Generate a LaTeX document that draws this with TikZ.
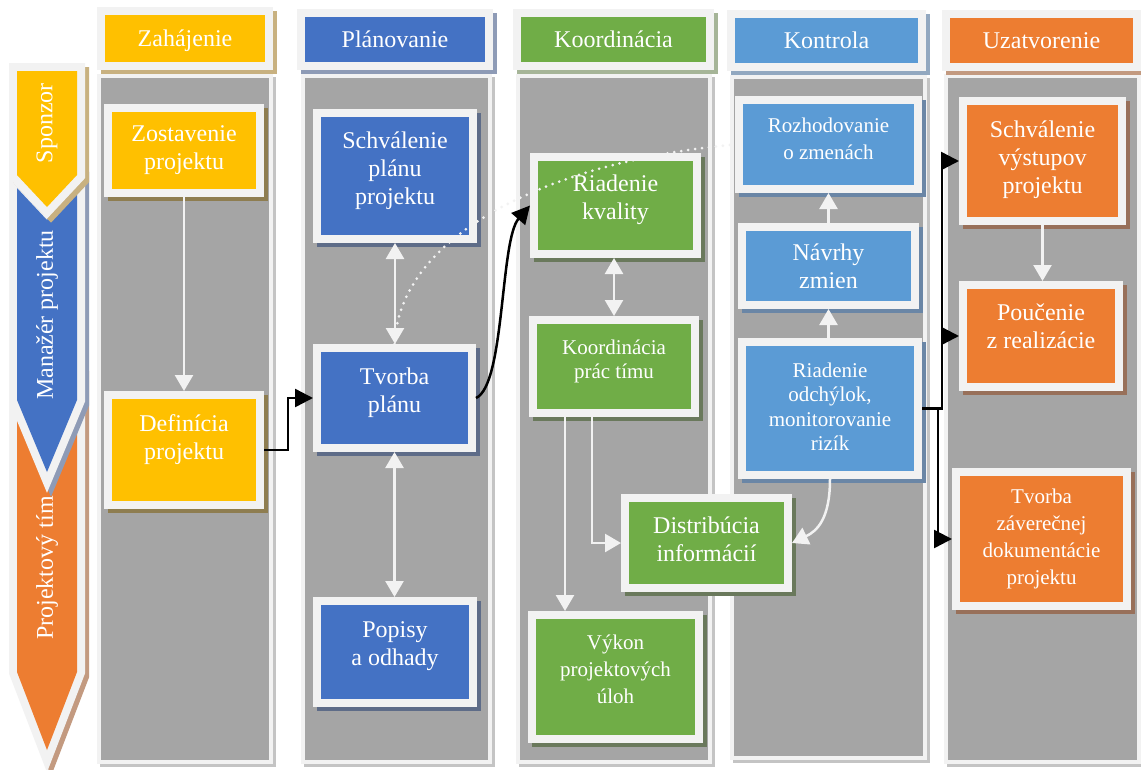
\documentclass[tikz,border=0pt]{standalone}
\usepackage{fontspec}
\setmainfont{Liberation Serif}
\usetikzlibrary{arrows.meta,calc}
\definecolor{frm}{HTML}{F2F2F2}
\definecolor{lanec}{HTML}{A5A5A5}
\definecolor{lanes}{HTML}{C4C4C4}
\definecolor{cyel}{HTML}{FFC000}
\definecolor{cblu}{HTML}{4472C4}
\definecolor{cgrn}{HTML}{70AD47}
\definecolor{clbl}{HTML}{5B9BD5}
\definecolor{cora}{HTML}{ED7D31}
\definecolor{hyel}{HTML}{C8B180}
\definecolor{hblu}{HTML}{8E9BB6}
\definecolor{hgrn}{HTML}{A6B598}
\definecolor{hlbl}{HTML}{92A8C0}
\definecolor{hora}{HTML}{C39A80}
\definecolor{dyel}{HTML}{8E7D50}
\definecolor{dblu}{HTML}{5E6C88}
\definecolor{dgrn}{HTML}{6A795C}
\definecolor{dlbl}{HTML}{6A86A6}
\definecolor{dora}{HTML}{98705A}
\newcommand\fsA{\fontsize{24pt}{28pt}\selectfont}
\newcommand\fsB{\fontsize{21pt}{27pt}\selectfont}
\newcommand\fsC{\fontsize{21pt}{24.5pt}\selectfont}
\newcommand\up[1]{\rule[-#1pt]{0pt}{#1pt}}
\begin{document}
\begin{tikzpicture}[x=1pt,y=-1pt,
  shd/.style 2 args={preaction={draw=#1,fill=#1,line width=#2,transform canvas={shift={(4pt,-4pt)}}}},
  box/.style 2 args={draw=frm,line width=8pt,fill=#1,shd={#2}{8pt},inner sep=0pt,outer sep=4pt,text=white,align=center,font=\fsA},
  hdr/.style={text height=19pt,text depth=4pt},
  lanebox/.style={draw=frm,line width=4pt,fill=lanec,inner sep=0pt,
    preaction={draw=lanes,fill=lanes,line width=4pt,transform canvas={shift={(3pt,-3pt)}}}},
  chev/.style 2 args={draw=frm,fill=frm,line width=16pt,line join=miter,shd={#2}{16pt}},
  wa/.style={draw=frm,line width=2.5pt,-{Triangle[width=18pt,length=16pt]}},
  wda/.style={draw=frm,line width=2.5pt,{Triangle[width=18pt,length=16pt]}-{Triangle[width=18pt,length=16pt]}},
  ba/.style={draw=black,line width=2.5pt,-{Triangle[width=18pt,length=18pt]}},
  dots/.style={draw=frm,line width=3pt,line cap=round,dash pattern=on 0pt off 7pt}]
\useasboundingbox[fill=white] (0,0) rectangle (1141,769);

% lanes
\node[lanebox,minimum width=172pt,minimum height=686pt] (l1) at (185,419) {};
\node[lanebox,minimum width=187pt,minimum height=686pt] (l2) at (396.5,419) {};
\node[lanebox,minimum width=192pt,minimum height=686pt] (l3) at (614,419) {};
\node[lanebox,minimum width=193pt,minimum height=681pt] (l4) at (828.5,417.5) {};
\node[lanebox,minimum width=193pt,minimum height=686pt] (l5) at (1042.5,419) {};

% headers
\node[box={cyel}{hyel},hdr,minimum width=168pt,minimum height=55pt] (h1) at (185,38.5) {Zahájenie};
\node[box={cblu}{hblu},hdr,minimum width=188pt,minimum height=53pt] (h2) at (395,39.5) {Plánovanie};
\node[box={cgrn}{hgrn},hdr,minimum width=193pt,minimum height=53pt] (h3) at (613.5,39.5) {Koordinácia};
\node[box={clbl}{hlbl},hdr,minimum width=191pt,minimum height=53pt] (h4) at (826.5,40.5) {Kontrola};
\node[box={cora}{hora},hdr,minimum width=191pt,minimum height=53pt] (h5) at (1041.5,40.5) {Uzatvorenie};

% role chevrons
\path[chev={cora}{hora}] (17,410) -- (47,488) -- (77,410) -- (77,672) -- (47,750) -- (17,672) -- cycle;
\fill[cora] (17,410) -- (47,488) -- (77,410) -- (77,672) -- (47,750) -- (17,672) -- cycle;
\path[chev={cblu}{hblu}] (17,188) -- (47,220) -- (77,188) -- (77,400) -- (47,472) -- (17,400) -- cycle;
\fill[cblu] (17,188) -- (47,220) -- (77,188) -- (77,400) -- (47,472) -- (17,400) -- cycle;
\path[chev={cyel}{hyel}] (17,71) -- (77,71) -- (77,175) -- (47,207) -- (17,175) -- cycle;
\fill[cyel] (17,71) -- (77,71) -- (77,175) -- (47,207) -- (17,175) -- cycle;
\node[rotate=90,text=white,font=\fsA] (r1) at (47,123) {Sponzor};
\node[rotate=90,text=white,font=\fsA] (r2) at (47,315) {Manažér projektu};
\node[rotate=90,text=white,font=\fsA] (r3) at (47,568) {Projektový tím};

% lane 1
\node[box={cyel}{dyel},minimum width=152pt,minimum height=85pt] (zost) at (184,150.5) {Zostavenie\\projektu};
\node[box={cyel}{dyel},minimum width=152pt,minimum height=110pt] (defi) at (184,450) {Definícia\\projektu\up{26}};
% lane 2
\node[box={cblu}{dblu},minimum width=156pt,minimum height=126pt] (schv) at (395,176) {Schválenie\\plánu\\projektu\up{16}};
\node[box={cblu}{dblu},minimum width=155pt,minimum height=100pt] (tvor) at (394.5,398) {Tvorba\\plánu\up{16}};
\node[box={cblu}{dblu},minimum width=156pt,minimum height=102pt] (popi) at (395,652) {Popisy\\a odhady\up{16}};
% lane 3
\node[box={cgrn}{dgrn},minimum width=163pt,minimum height=97pt] (kval) at (615.5,205.5) {Riadenie\\kvality\up{16}};
\node[box={cgrn}{dgrn},minimum width=162pt,minimum height=93pt,font=\fsC] (koor) at (614,366.5) {Koordinácia\\prác tímu\up{15}};
\node[box={cgrn}{dgrn},minimum width=163pt,minimum height=90pt] (dist) at (706.5,543) {Distribúcia\\informácií\up{8}};
\node[box={cgrn}{dgrn},minimum width=167pt,minimum height=124pt,font=\fsB] (vyko) at (615.5,677) {Výkon\\projektových\\úloh\up{16}};
% lane 4
\node[box={clbl}{dlbl},minimum width=179pt,minimum height=89pt,font=\fsB] (rozh) at (828.5,144.5) {Rozhodovanie\\o zmenách\up{12}};
\node[box={clbl}{dlbl},minimum width=173pt,minimum height=78pt] (navr) at (828.5,266) {Návrhy\\zmien};
\node[box={clbl}{dlbl},minimum width=176pt,minimum height=133pt,font=\fsC] (odch) at (830,408.5) {Riadenie\\odchýlok,\\monitorovanie\\rizík\up{4}};
% lane 5
\node[box={cora}{dora},minimum width=159pt,minimum height=120pt] (schvv) at (1042.5,161) {Schválenie\\výstupov\\projektu\up{8}};
\node[box={cora}{dora},minimum width=156pt,minimum height=102pt] (pouc) at (1041,336) {Poučenie\\z realizácie\up{19}};
\node[box={cora}{dora},minimum width=171pt,minimum height=134pt,font=\fsB] (zave) at (1041.5,539) {Tvorba\\záverečnej\\dokumentácie\\projektu};

% white connectors
\draw[wa] (zost.south) -- (zost.south |- defi.north);
\draw[wda] (schv.south) -- (schv.south |- tvor.north);
\draw[wda] (tvor.south) -- (tvor.south |- popi.north);
\draw[wda] ([xshift=-1.5pt]kval.south) -- ([xshift=-1.5pt]kval.south |- koor.north);
\draw[wa] ([xshift=-49pt]koor.south) -- ([xshift=-49pt]koor.south |- vyko.north);
\draw[wa] ([xshift=-22pt]koor.south) |- (dist.west);
\draw[wa] (odch.south) .. controls +(0,40) and +(25,-12) .. (dist.east);
\draw[wa] ([xshift=-1.5pt]odch.north) -- ([xshift=-1.5pt]odch.north |- navr.south);
\draw[wa] (navr.south |- navr.north) -- (navr.north |- rozh.south);
\draw[wa] (schvv.south) -- (schvv.south |- pouc.north);
\draw[dots] (tvor.north) .. controls (400,230) and (560,160) .. (rozh.west);

% black connectors
\draw[ba] (defi.east) -- ++(24,0) |- (tvor.west);
\draw[ba] (tvor.east) .. controls (505,385) and (500,240) .. (kval.west);
\draw[ba] (odch.east) -- ++(20,0) coordinate (j) |- (schvv.west);
\draw[ba] (j) |- (pouc.west);
\draw[ba] (odch.east) -- ++(16,0) |- (zave.west);
\end{tikzpicture}
\end{document}
